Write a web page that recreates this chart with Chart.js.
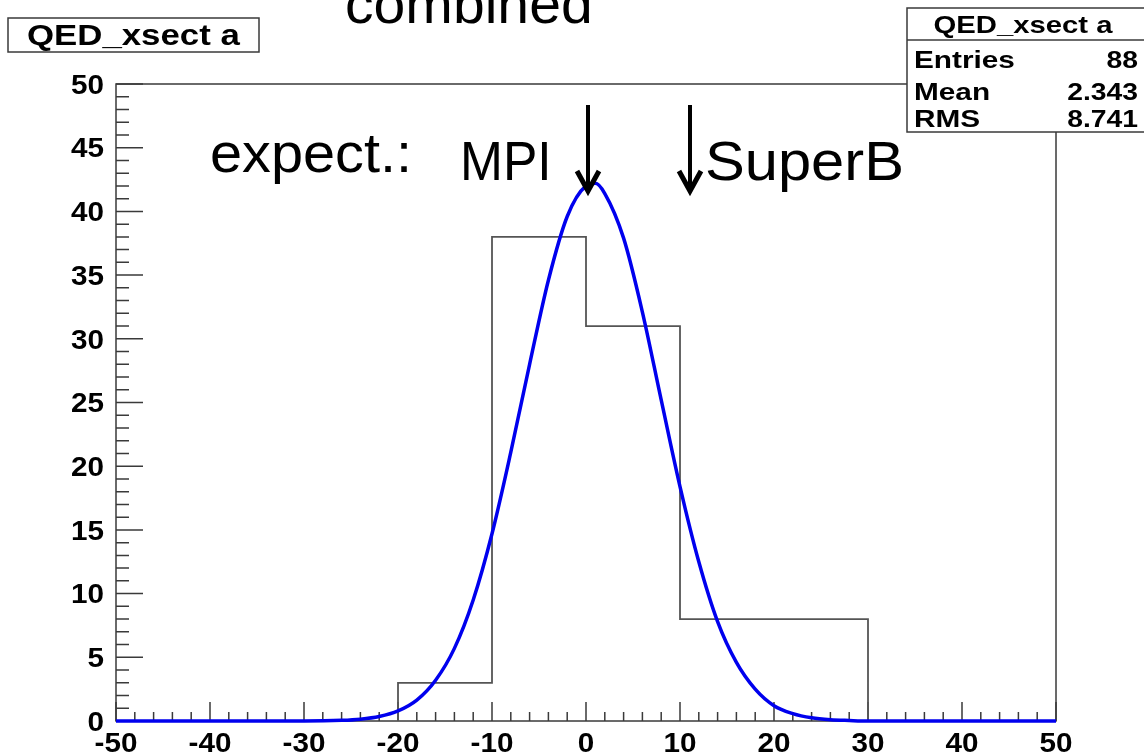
<!DOCTYPE html>
<html>
<head>
<meta charset="utf-8">
<script src="https://cdn.jsdelivr.net/npm/chart.js@4.4.1/dist/chart.umd.min.js"></script>
<style>
  body { margin: 0; background: #fff; }
  #wrap { width: 1144px; height: 753px; }
</style>
</head>
<body>
<div id="wrap"><canvas id="c" width="1144" height="753"></canvas></div>
<script>
// histogram bins (edges) and contents
var binEdges = [-20, -10, 0, 10, 20, 30];
var binCounts = [3, 38, 31, 8, 8];

// gaussian fit curve
var fitX = [-50, -40, -30, -26, -24, -22, -20, -18, -16, -14, -12, -10, -8, -6, -4, -2, 0, 1, 2, 4, 6, 8, 10, 12, 14, 16, 18, 20, 22, 24, 26, 28, 30, 40, 50];
var fitY = [0, 0, 0, 0.05, 0.14, 0.35, 0.79, 1.64, 3.2, 5.7, 9.5, 14.7, 21.1, 28.0, 34.6, 39.6, 42.0, 42.2, 41.4, 37.9, 32.1, 25.2, 18.4, 12.5, 7.8, 4.6, 2.5, 1.2, 0.58, 0.25, 0.1, 0.04, 0, 0, 0];

var xTicks = [-50, -40, -30, -20, -10, 0, 10, 20, 30, 40, 50];
var yTicks = [0, 5, 10, 15, 20, 25, 30, 35, 40, 45, 50];

var statNames = ["Entries", "Mean", "RMS"];
var statValues = ["88", "2.343", "8.741"];
var histName = "QED_xsect a";

// outline points of the histogram
var histPts = [{x: binEdges[0], y: 0}];
for (var i = 0; i < binCounts.length; i++) {
    histPts.push({x: binEdges[i], y: binCounts[i]});
}
histPts.push({x: binEdges[binEdges.length - 1], y: 0});

var fitPts = fitX.map(function(x, i) { return {x: x, y: fitY[i]}; });

var SX = 1.06; // ROOT fonts look a bit stretched sideways

function sText(ctx, txt, x, y, font, align, base, sx) {
    ctx.save();
    ctx.font = font;
    ctx.textAlign = align;
    ctx.textBaseline = base;
    ctx.translate(x, y);
    ctx.scale(sx, 1);
    ctx.fillStyle = "#000";
    ctx.fillText(txt, 0, 0);
    ctx.restore();
}

function arrow(ctx, x, y0, y1) {
    ctx.save();
    ctx.strokeStyle = "#000";
    ctx.lineWidth = 4;
    ctx.beginPath();
    ctx.moveTo(x, y0);
    ctx.lineTo(x, y1 - 4);
    ctx.stroke();
    ctx.lineWidth = 5;
    ctx.lineJoin = "miter";
    ctx.beginPath();
    ctx.moveTo(x - 11, y1 - 24);
    ctx.lineTo(x, y1 - 4);
    ctx.lineTo(x + 11, y1 - 24);
    ctx.stroke();
    ctx.restore();
}

var rootPlugin = {
    id: "rootStyle",
    beforeDraw: function(chart) {
        var ctx = chart.ctx;
        ctx.save();
        ctx.fillStyle = "#fff";
        ctx.fillRect(0, 0, chart.width, chart.height);
        ctx.restore();
    },
    beforeDatasetsDraw: function(chart) {
        var ctx = chart.ctx, a = chart.chartArea;
        var xs = chart.scales.x, ys = chart.scales.y;
        ctx.save();
        ctx.strokeStyle = "#3a3a3a";
        ctx.lineWidth = 1.5;
        ctx.strokeRect(a.left, a.top, a.right - a.left, a.bottom - a.top);
        ctx.beginPath();
        // x ticks, major every 10, minor every 2
        for (var v = -50; v <= 50; v += 2) {
            var px = xs.getPixelForValue(v);
            var len = (v % 10 === 0) ? 19 : 9;
            ctx.moveTo(px, a.bottom);
            ctx.lineTo(px, a.bottom - len);
        }
        // y ticks, major every 5, minor every 1
        for (var w = 0; w <= 50; w += 1) {
            var py = ys.getPixelForValue(w);
            var l2 = (w % 5 === 0) ? 27 : 13;
            ctx.moveTo(a.left, py);
            ctx.lineTo(a.left + l2, py);
        }
        ctx.stroke();
        ctx.restore();
    },
    afterDraw: function(chart) {
        var ctx = chart.ctx, a = chart.chartArea;
        var xs = chart.scales.x, ys = chart.scales.y;
        var tf = "bold 28px 'Liberation Sans', Arial, sans-serif";
        xTicks.forEach(function(v) {
            sText(ctx, String(v), xs.getPixelForValue(v), 752, tf, "center", "alphabetic", SX);
        });
        yTicks.forEach(function(v) {
            sText(ctx, String(v), 104, ys.getPixelForValue(v) + 2, tf, "right", "middle", SX);
        });

        ctx.save();
        ctx.strokeStyle = "#3a3a3a";
        ctx.lineWidth = 1.5;
        ctx.fillStyle = "#fff";
        // title box
        ctx.fillRect(8, 18, 251, 34);
        ctx.strokeRect(8, 18, 251, 34);
        // stats box
        ctx.fillRect(907, 8, 250, 124);
        ctx.strokeRect(907, 8, 250, 124);
        ctx.beginPath();
        ctx.moveTo(907, 40);
        ctx.lineTo(1144, 40);
        ctx.stroke();
        ctx.restore();

        sText(ctx, histName, 27, 45, "bold 29px 'Liberation Sans', Arial, sans-serif", "left", "alphabetic", 1.2);
        var sf = "bold 24px 'Liberation Sans', Arial, sans-serif";
        sText(ctx, histName, 1023, 33, sf, "center", "alphabetic", 1.22);
        var rows = [68, 100, 127];
        statNames.forEach(function(n, i) {
            sText(ctx, n, 914, rows[i], sf, "left", "alphabetic", 1.24);
            sText(ctx, statValues[i], 1138, rows[i], sf, "right", "alphabetic", 1.18);
        });

        var bf = "56px 'Liberation Sans', Arial, sans-serif";
        sText(ctx, "combined", 345, 23, bf, "left", "alphabetic", 1.02);
        sText(ctx, "expect.:", 210, 172, bf, "left", "alphabetic", 1.03);
        sText(ctx, "MPI", 460, 180, bf, "left", "alphabetic", 0.92);
        sText(ctx, "SuperB", 705, 180, bf, "left", "alphabetic", 1.065);
        arrow(ctx, 588, 105, 195);
        arrow(ctx, 690, 105, 195);
    }
};

var ctx = document.getElementById("c").getContext("2d");
var chart = new Chart(ctx, {
    type: "line",
    data: {
        datasets: [{
            label: "fit",
            data: fitPts,
            borderColor: "#0000ee",
            borderWidth: 3.5,
            pointRadius: 0,
            cubicInterpolationMode: "monotone",
            fill: false,
            clip: 6
        }, {
            label: histName,
            data: histPts,
            borderColor: "#555555",
            borderWidth: 1.8,
            pointRadius: 0,
            stepped: true,
            fill: false
        }]
    },
    options: {
        responsive: false,
        animation: false,
        layout: { padding: { top: 84, right: 88, left: 0, bottom: 0 } },
        plugins: { legend: { display: false }, tooltip: { enabled: false } },
        scales: {
            x: {
                type: "linear", min: -50, max: 50,
                ticks: { display: false },
                grid: { display: false },
                border: { display: false },
                afterFit: function(s) { s.height = 32; }
            },
            y: {
                type: "linear", min: 0, max: 50,
                ticks: { display: false },
                grid: { display: false },
                border: { display: false },
                afterFit: function(s) { s.width = 116; }
            }
        }
    },
    plugins: [rootPlugin]
});
</script>
</body>
</html>
